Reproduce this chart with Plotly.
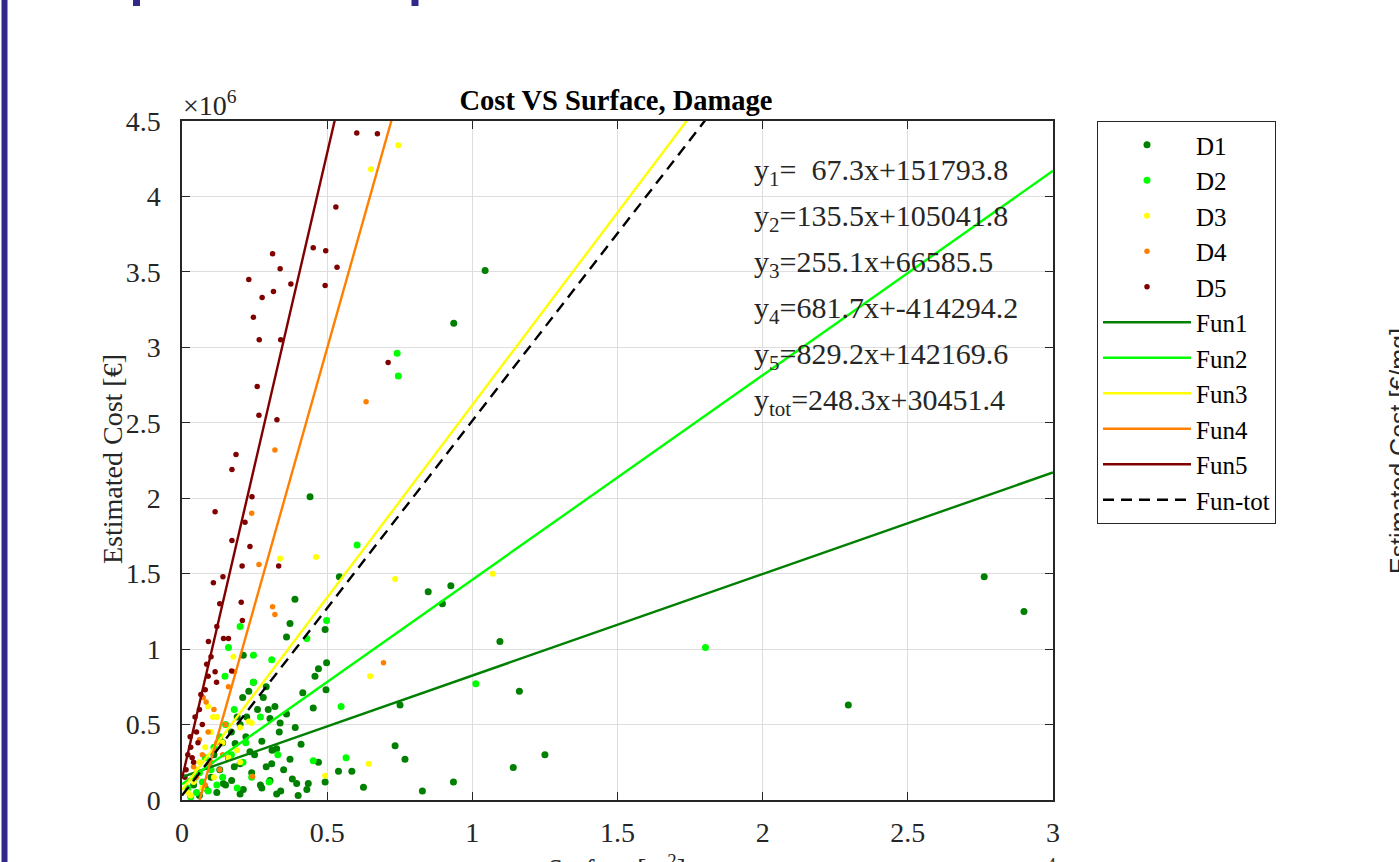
import plotly.graph_objects as go

# ---------------- data (x in 10^4 m^2, y in 10^6 EUR) ----------------
d1_x = [1.044, 0.936, 0.441, 0.389, 0.372, 0.360, 0.542, 0.848, 0.926, 0.897, 0.493, 1.095, 1.162, 1.141,
        0.935, 0.828, 0.734, 0.768, 0.751, 0.625, 0.585, 0.539, 0.496, 0.498, 0.470, 0.458, 0.452, 0.416,
        0.493, 0.470, 0.435, 0.430, 0.395, 0.372, 0.335, 0.338, 0.303, 0.297, 0.275, 0.326, 0.309, 0.303,
        0.275, 0.326, 0.211, 0.246, 0.280, 0.209, 0.223, 0.200, 0.183, 0.234, 0.200, 0.171, 0.211, 0.142,
        1.250, 2.763, 2.900, 2.295,
        0.12, 0.15, 0.10, 0.13, 0.16, 0.18, 0.08, 0.06, 0.11, 0.14, 0.17, 0.19, 0.22, 0.25, 0.24, 0.27,
        0.29, 0.31, 0.26, 0.23, 0.29, 0.32, 0.36, 0.39, 0.41, 0.35, 0.38, 0.40, 0.34, 0.20, 0.09, 0.04]
d1_y = [3.51, 3.16, 2.01, 1.33, 1.17, 1.08, 1.48, 1.38, 1.42, 1.30, 1.13, 1.05, 0.72, 0.215,
        0.12, 0.06, 0.36, 0.27, 0.63, 0.085, 0.19, 0.19, 0.73, 0.91, 0.87, 0.82, 0.61, 0.71,
        0.12, 0.25, 0.11, 0.07, 0.11, 0.27, 0.45, 0.51, 0.54, 0.60, 0.39, 0.34, 0.24, 0.13,
        0.08, 0.04, 0.96, 0.78, 0.68, 0.68, 0.55, 0.50, 0.375, 0.32, 0.24, 0.13, 0.07, 0.11,
        0.30, 1.48, 1.25, 0.63,
        0.05, 0.10, 0.15, 0.20, 0.28, 0.22, 0.08, 0.03, 0.30, 0.38, 0.45, 0.55, 0.42, 0.30, 0.18, 0.10,
        0.22, 0.33, 0.60, 0.72, 0.75, 0.62, 0.57, 0.48, 0.37, 0.20, 0.14, 0.03, 0.06, 0.04, 0.22, 0.10]

d2_x = [0.741, 0.745, 0.603, 1.803, 0.498, 0.430, 0.548, 0.565, 1.012, 0.452, 0.246, 0.160, 0.200, 0.148,
        0.309, 0.246,
        0.05, 0.07, 0.09, 0.10, 0.12, 0.14, 0.11, 0.13, 0.17, 0.19, 0.21, 0.08, 0.03, 0.06, 0.15, 0.18,
        0.22, 0.27, 0.30, 0.33, 0.24, 0.02, 0.04]
d2_y = [2.96, 2.81, 1.69, 1.01, 1.19, 1.07, 0.62, 0.28, 0.77, 0.26, 0.96, 1.01, 1.15, 0.82,
        0.93, 0.78,
        0.05, 0.12, 0.06, 0.20, 0.10, 0.15, 0.35, 0.42, 0.30, 0.08, 0.25, 0.28, 0.02, 0.18, 0.50, 0.60,
        0.38, 0.55, 0.12, 0.30, 0.15, 0.08, 0.14]

d3_x = [0.745, 0.651, 1.070, 0.734, 0.462, 0.338, 0.648, 0.643, 0.493, 0.177, 0.240, 0.200, 0.107,
        0.02, 0.04, 0.06, 0.08, 0.10, 0.12, 0.05, 0.09, 0.14, 0.16, 0.11, 0.07, 0.20, 0.23, 0.19, 0.03]
d3_y = [4.34, 4.18, 1.50, 1.465, 1.61, 1.60, 0.82, 0.24, 0.16, 0.95, 0.51, 0.25, 0.55,
        0.05, 0.12, 0.25, 0.35, 0.45, 0.55, 0.20, 0.62, 0.38, 0.28, 0.15, 0.08, 0.48, 0.52, 0.33, 0.03]

d4_x = [0.634, 0.694, 0.320, 0.240, 0.265, 0.312, 0.320, 0.243, 0.073, 0.083,
        0.05, 0.07, 0.09, 0.10, 0.12, 0.06, 0.11, 0.13, 0.15, 0.08, 0.04, 0.16, 0.18, 0.14]
d4_y = [2.64, 0.91, 2.32, 1.90, 1.56, 1.28, 1.23, 0.155, 0.68, 0.65,
        0.15, 0.30, 0.45, 0.25, 0.38, 0.40, 0.60, 0.20, 0.50, 0.10, 0.22, 0.75, 0.85, 0.30]

d5_x = [0.602, 0.673, 0.530, 0.312, 0.452, 0.495, 0.338, 0.534, 0.230, 0.375, 0.315, 0.493, 0.276,
        0.246, 0.266, 0.340, 0.710, 0.259, 0.265, 0.327, 0.186, 0.172, 0.241, 0.114, 0.217, 0.172,
        0.234, 0.108, 0.141, 0.207, 0.333, 0.204, 0.208, 0.160, 0.091, 0.143, 0.114, 0.171, 0.090,
        0.119, 0.080, 0.045, 0.028, 0.020, 0.014,
        0.030, 0.050, 0.060, 0.070, 0.040, 0.100, 0.120, 0.130, 0.065, 0.085, 0.010, 0.035, 0.055]
d5_y = [4.42, 4.415, 3.93, 3.62, 3.66, 3.64, 3.52, 3.53, 3.45, 3.42, 3.37, 3.41, 3.33,
        3.20, 3.05, 3.05, 2.90, 2.74, 2.55, 2.52, 2.29, 2.19, 2.01, 1.91, 1.84, 1.72,
        1.68, 1.44, 1.48, 1.55, 1.55, 1.31, 1.19, 1.07, 1.05, 1.07, 0.85, 0.855, 0.82,
        0.78, 0.73, 0.55, 0.42, 0.30, 0.20,
        0.35, 0.45, 0.60, 0.50, 0.25, 0.95, 1.15, 1.30, 0.70, 0.90, 0.15, 0.28, 0.38]

series_names = ["D1", "D2", "D3", "D4", "D5"]
fun_names = ["Fun1", "Fun2", "Fun3", "Fun4", "Fun5", "Fun-tot"]
eq_labels = ["1", "2", "3", "4", "5", "tot"]
# linear fit coefficients (EUR per m^2, EUR)
fit_slopes = [67.3, 135.5, 255.1, 681.7, 829.2, 248.3]
fit_intercepts = [151793.8, 105041.8, 66585.5, -414294.2, 142169.6, 30451.4]
fit_xmin = [0.0, 0.0, 0.0, 0.0, 0.0, 0.0]
fit_xmax = [3.0, 3.0, 1.8, 0.75, 0.55, 1.85]

x_ticks = [0, 0.5, 1, 1.5, 2, 2.5, 3]
x_ticktext = ["0", "0.5", "1", "1.5", "2", "2.5", "3"]
y_ticks = [0, 0.5, 1, 1.5, 2, 2.5, 3, 3.5, 4, 4.5]
y_ticktext = ["0", "0.5", "1", "1.5", "2", "2.5", "3", "3.5", "4", "4.5"]

# ---------------- styling ----------------
colors = ["#008000", "#00FF00", "#FFFF00", "#FF8000", "#800000", "#000000"]
msizes = [7, 7, 6, 5.5, 5.5]
FONT = "Liberation Serif"
INK = "#262626"

# pixel geometry of the plot box
L, R, T, B = 182, 1053, 121, 800
W, H = 1399, 862
def px(xp):
    return (xp - L) / (R - L)
def py(yp):
    return (B - yp) / (B - T)

fig = go.Figure()
data_x = [d1_x, d2_x, d3_x, d4_x, d5_x]
data_y = [d1_y, d2_y, d3_y, d4_y, d5_y]
for i, name in enumerate(series_names):
    fig.add_trace(go.Scatter(
        x=data_x[i], y=data_y[i], mode="markers", name=name,
        marker=dict(color=colors[i], size=msizes[i], line=dict(width=0)),
        legendgroup=name, cliponaxis=True))

for i, name in enumerate(fun_names):
    xs = [fit_xmin[i], fit_xmax[i]]
    ys = [(fit_slopes[i] * x * 1e4 + fit_intercepts[i]) / 1e6 for x in xs]
    fig.add_trace(go.Scatter(
        x=xs, y=ys, mode="lines", name=name, legendgroup=name,
        line=dict(color=colors[i], width=2.4, dash="11px,7px" if name == "Fun-tot" else "solid")))

annotations = []
# equations
row_y = [172, 218, 264, 310, 356, 402]
for i in range(6):
    sp = "\u00a0\u00a0" if i == 0 else ""
    txt = "y<sub>%s</sub>=%s%.1fx+%.1f" % (eq_labels[i], sp, fit_slopes[i], fit_intercepts[i])
    annotations.append(dict(x=px(752), y=py(row_y[i]), xref="paper", yref="paper", text=txt,
                            showarrow=False, xanchor="left", yanchor="middle",
                            font=dict(family=FONT, size=30, color=INK)))
# x10^6 exponent
annotations.append(dict(x=px(181), y=py(103), xref="paper", yref="paper", text="×10<sup>6</sup>",
                        showarrow=False, xanchor="left", yanchor="middle",
                        font=dict(family=FONT, size=28, color=INK)))
# y axis title
annotations.append(dict(x=px(112), y=py(459), xref="paper", yref="paper", text="Estimated Cost [€]",
                        showarrow=False, textangle=-90, xanchor="center", yanchor="middle",
                        font=dict(family=FONT, size=28, color=INK)))
# x axis title (cut by bottom edge)
annotations.append(dict(x=px(617), y=py(848), xref="paper", yref="paper", text="Surface [m<sup>2</sup>]",
                        showarrow=False, xanchor="center", yanchor="top",
                        font=dict(family=FONT, size=27, color=INK)))
# x10^4 exponent (only the top of the exponent shows)
annotations.append(dict(x=px(1058), y=py(853), xref="paper", yref="paper", text="×10<sup>4</sup>",
                        showarrow=False, xanchor="right", yanchor="top",
                        font=dict(family=FONT, size=26, color=INK)))
# neighbouring subplot's label, cut by right edge
annotations.append(dict(x=px(1399), y=py(451), xref="paper", yref="paper", text="Estimated Cost [€/mq]",
                        showarrow=False, textangle=-90, xanchor="center", yanchor="middle",
                        font=dict(family="Liberation Sans", size=25, color=INK)))

shapes = [
    dict(type="rect", xref="paper", yref="paper", x0=px(1.5), x1=px(7.5), y0=py(900), y1=py(-20),
         fillcolor="#31298A", line=dict(width=0), layer="above"),
    dict(type="rect", xref="paper", yref="paper", x0=px(133), x1=px(140), y0=py(6), y1=py(-20),
         fillcolor="#31298A", line=dict(width=0), layer="above"),
    dict(type="rect", xref="paper", yref="paper", x0=px(411.5), x1=px(418.5), y0=py(6), y1=py(-20),
         fillcolor="#31298A", line=dict(width=0), layer="above"),
]

axis_common = dict(showgrid=True, gridcolor="#DEDEDE", gridwidth=1, showline=True, linecolor=INK,
                   linewidth=1.5, mirror="ticks", ticks="inside", ticklen=8, tickwidth=1, tickcolor=INK,
                   zeroline=False, tickfont=dict(family=FONT, size=28, color=INK))

fig.update_layout(
    width=W, height=H,
    margin=dict(l=L, r=W - R, t=T, b=H - B, autoexpand=False),
    paper_bgcolor="white", plot_bgcolor="white",
    title=dict(text="<b>Cost VS Surface, Damage</b>", x=px(616), xref="paper", xanchor="center",
               y=1 - 100 / H, yanchor="middle", font=dict(family=FONT, size=28.5, color="#000000")),
    xaxis=dict(range=[0, 3], tickvals=x_ticks, ticktext=x_ticktext, ticklabelstandoff=7, **axis_common),
    yaxis=dict(range=[0, 4.5], tickvals=y_ticks, ticktext=y_ticktext, ticklabelstandoff=14, **axis_common),
    legend=dict(x=px(1097), y=1.0, xanchor="left", yanchor="top", bgcolor="white",
                bordercolor=INK, borderwidth=1, font=dict(family=FONT, size=25, color="#000000"),
                traceorder="grouped", tracegroupgap=0, itemwidth=88),
    annotations=annotations, shapes=shapes,
    showlegend=True,
)

fig.write_html("out.html", config={"displayModeBar": False},
               post_script="document.body.style.margin='0';document.body.style.padding='0';")
